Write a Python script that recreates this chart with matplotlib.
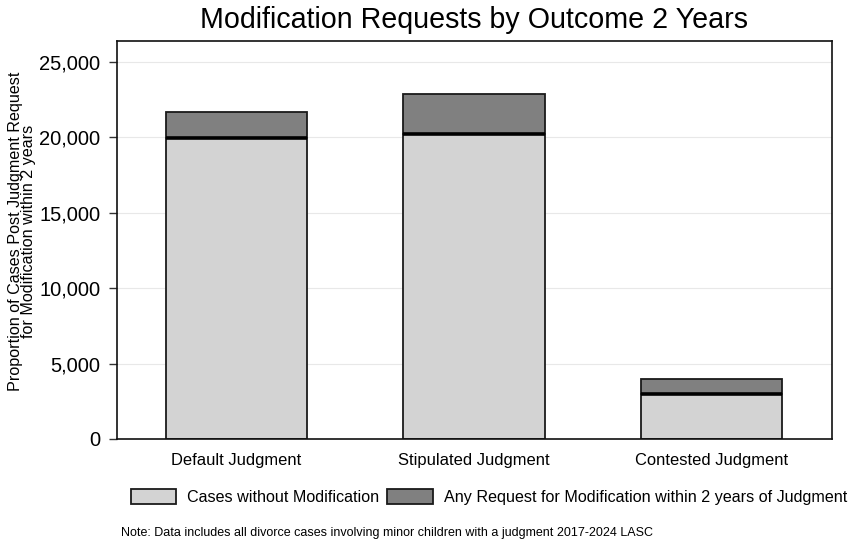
import matplotlib.pyplot as plt
import numpy as np

plt.rcParams['font.family'] = ['Liberation Sans', 'DejaVu Sans']

categories = ['Default Judgment', 'Stipulated Judgment', 'Contested Judgment']
no_mod = [19950, 20250, 2980]
any_mod = [1770, 2650, 1000]
yticks = [0, 5000, 10000, 15000, 20000, 25000]

light = '#d3d3d3'
dark = '#808080'

fig = plt.figure(figsize=(8.52, 5.44), dpi=100)
ax = fig.add_axes([117/852, 1 - 439/544, 715/852, 398/544])

x = np.arange(len(categories))
w = 0.594
ax.bar(x, no_mod, w, color=light, edgecolor='#1a1a1a', linewidth=1.3, zorder=2,
       label='Cases without Modification')
ax.bar(x, any_mod, w, bottom=no_mod, color=dark, edgecolor='#1a1a1a', linewidth=1.3,
       zorder=2, label='Any Request for Modification within 2 years of Judgment')
# thick boundary between segments
ax.hlines(no_mod, x - w/2, x + w/2, color='black', linewidth=2.6, zorder=3)

ax.set_xlim(-0.503, 2.507)
ax.set_ylim(0, 26400)
ax.set_xticks(x)
ax.set_xticklabels(categories, fontsize=11.9)
ax.set_yticks(yticks)
ax.set_yticklabels([f'{v:,}' for v in yticks], fontsize=14.5)
ax.tick_params(axis='x', length=0, pad=10)
ax.tick_params(axis='y', length=6, width=1, color='#333333', pad=6)
ax.grid(axis='y', color='#e8e8e8', linewidth=0.8, zorder=0)
for s in ax.spines.values():
    s.set_linewidth(1.2)
    s.set_color('#111111')

fig.text(22/852, 1 - 231/544,
         'Proportion of Cases Post Judgment Request\nfor Modification within 2 years',
         fontsize=11.6, linespacing=0.85, rotation=90, ha='center', va='center',
         multialignment='center')
fig.text(474/852, 1 - 20/544, 'Modification Requests by Outcome 2 Years',
         fontsize=20.6, ha='center', va='center')

fig.legend(loc='center', bbox_to_anchor=(489/852, 1 - 497/544), ncol=2, frameon=False,
           fontsize=11.6, handlelength=2.8, handleheight=1.1, columnspacing=0.5,
           handletextpad=0.7)
fig.text(121/852, 1 - 533/544,
         'Note: Data includes all divorce cases involving minor children with a judgment 2017-2024 LASC',
         fontsize=9, ha='left', va='center')

fig.savefig('out.png', dpi=100)
